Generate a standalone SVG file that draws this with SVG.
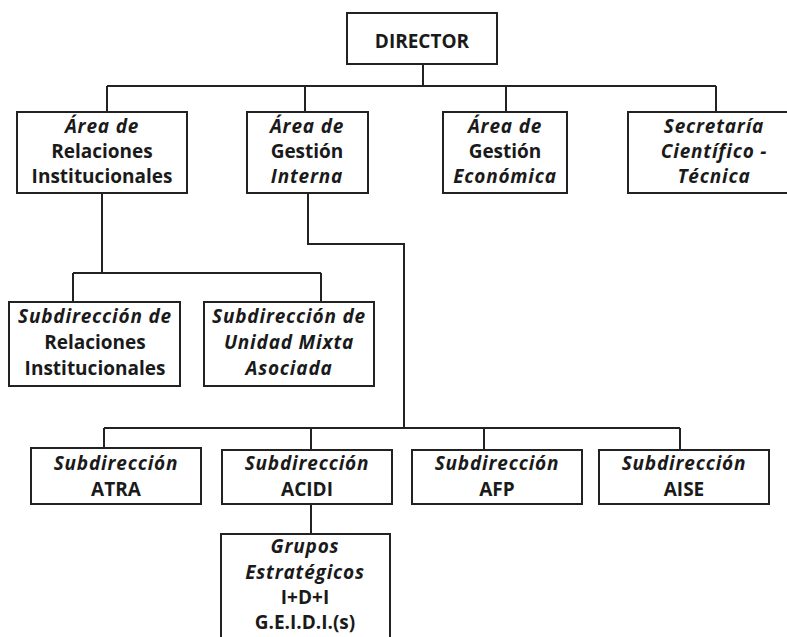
<svg xmlns="http://www.w3.org/2000/svg" width="787" height="637" viewBox="0 0 787 637">
<style>
.n rect{fill:#fff;stroke:#222;stroke-width:2}
.c path{fill:none;stroke:#222;stroke-width:2}
text{font-family:"Open Sans","DejaVu Sans",sans-serif;font-weight:bold;font-size:19px;fill:#1a1a1a;text-anchor:middle}
.i{font-style:italic;letter-spacing:0.8px}
</style>
<rect width="787" height="637" style="fill:#fff;stroke:none"/>
<g class="c" id="connectors">
<path d="M423 64V86M107 86H716M107 86V112M305 86V112M506 86V112M716 86V112"/>
<path d="M102 193V273M73 273H321M73 273V302M321 273V302"/>
<path d="M308 193V244H404V428M104 428H680M104 428V448M311 428V450M484 428V450M680 428V450"/>
<path d="M311 504V534"/>
</g>
<g class="n" id="director"><rect x="347" y="13" width="150" height="51"/><text x="422" y="48">DIRECTOR</text></g>
<g class="n" id="area-ri"><rect x="17" y="112" width="170" height="81"/>
<text x="102" y="133" class="i">Área de</text><text x="102" y="158">Relaciones</text><text x="102" y="183">Institucionales</text></g>
<g class="n" id="area-gi"><rect x="247" y="112" width="121" height="81"/>
<text x="307" y="133" class="i">Área de</text><text x="307" y="158">Gestión</text><text x="307" y="183" class="i">Interna</text></g>
<g class="n" id="area-ge"><rect x="443" y="112" width="124" height="81"/>
<text x="505" y="133" class="i">Área de</text><text x="505" y="158">Gestión</text><text x="505" y="183" class="i">Económica</text></g>
<g class="n" id="secretaria"><rect x="628" y="112" width="172" height="81"/>
<text x="714" y="133" class="i">Secretaría</text><text x="714" y="158" class="i">Científico -</text><text x="714" y="183" class="i">Técnica</text></g>
<g class="n" id="sub-ri"><rect x="9" y="302" width="171" height="84"/>
<text x="95" y="323" class="i">Subdirección de</text><text x="95" y="349">Relaciones</text><text x="95" y="375">Institucionales</text></g>
<g class="n" id="sub-uma"><rect x="204" y="302" width="170" height="84"/>
<text x="289" y="323" class="i">Subdirección de</text><text x="289" y="349" class="i">Unidad Mixta</text><text x="289" y="375" class="i">Asociada</text></g>
<g class="n" id="sub-atra"><rect x="31" y="448" width="170" height="56"/>
<text x="116" y="470" class="i">Subdirección</text><text x="116" y="496">ATRA</text></g>
<g class="n" id="sub-acidi"><rect x="222" y="450" width="170" height="54"/>
<text x="307" y="470" class="i">Subdirección</text><text x="307" y="496">ACIDI</text></g>
<g class="n" id="sub-afp"><rect x="412" y="450" width="170" height="54"/>
<text x="497" y="470" class="i">Subdirección</text><text x="497" y="496">AFP</text></g>
<g class="n" id="sub-aise"><rect x="599" y="450" width="170" height="54"/>
<text x="684" y="470" class="i">Subdirección</text><text x="684" y="496">AISE</text></g>
<g class="n" id="grupos"><rect x="221" y="534" width="169" height="110"/>
<text x="305" y="553" class="i">Grupos</text><text x="305" y="579" class="i">Estratégicos</text><text x="305" y="604">I+D+I</text><text x="305" y="629">G.E.I.D.I.(s)</text></g>
</svg>
